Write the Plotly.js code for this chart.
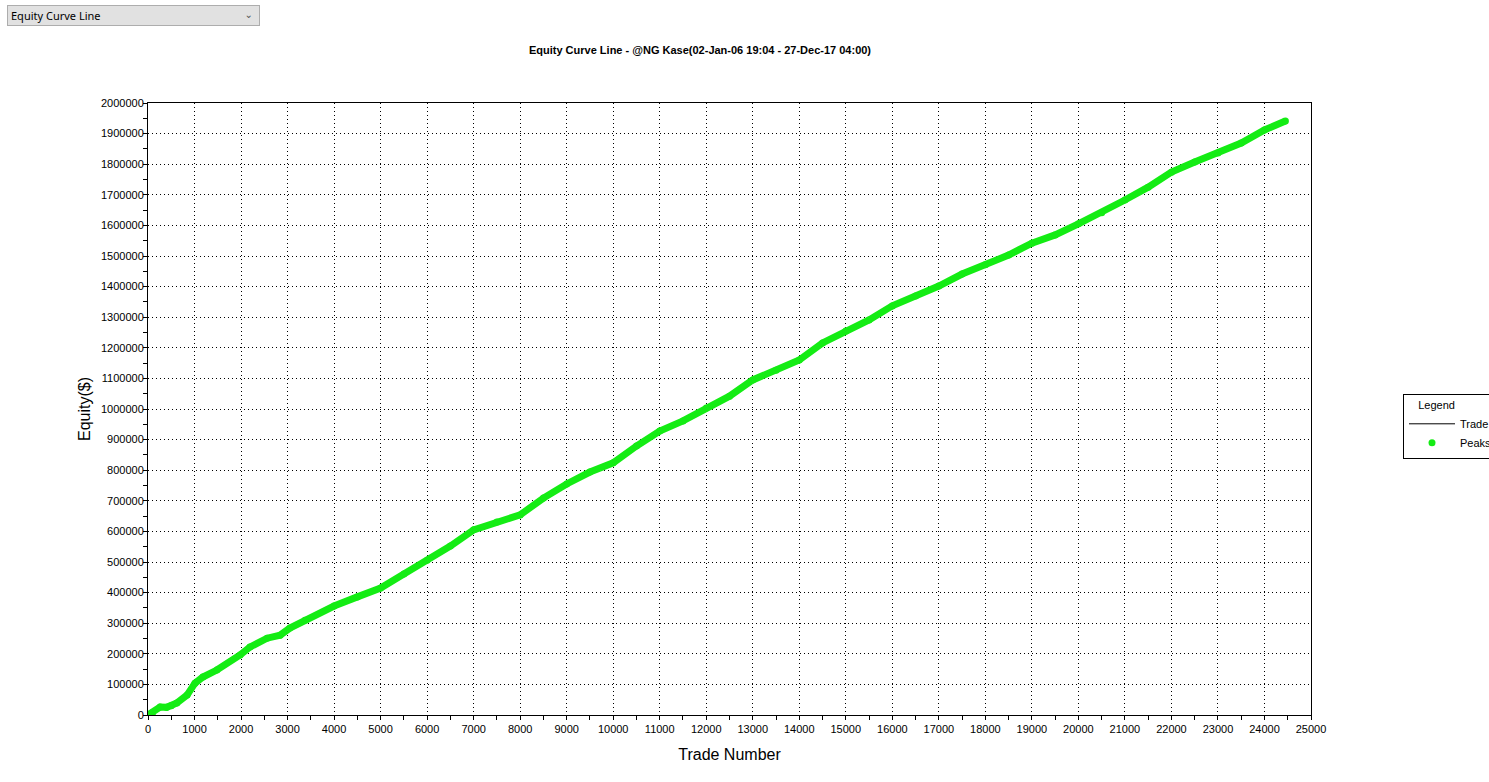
<!DOCTYPE html>
<html>
<head>
<meta charset="utf-8">
<script src="https://cdn.plot.ly/plotly-3.0.1.min.js"></script>
<style>
  html, body { margin: 0; padding: 0; background: #ffffff; overflow: hidden; width: 1489px; height: 782px; }
  #chart { position: absolute; left: 0; top: 0; width: 1600px; height: 782px; }
  #dropdown {
    position: absolute; left: 7px; top: 5px; width: 251px; height: 19px;
    background: #e1e1e1; border: 1px solid #adadad; z-index: 10;
    font-family: "Noto Sans", "DejaVu Sans", sans-serif; font-size: 11px; color: #000;
    line-height: 19px; box-sizing: content-box;
  }
  #dropdown span.t { position: absolute; left: 3px; top: 0; }
  #dropdown span.c { position: absolute; right: 6px; top: -1px; font-size: 10px; color: #555; }
</style>
</head>
<body>
<div id="dropdown"><span class="t">Equity Curve Line</span><span class="c">&#8964;</span></div>
<div id="chart"></div>
<script>
// Trade number and equity
var tradeNumbers = [0, 100, 260, 400, 500, 620, 840, 1010, 1180, 1480, 1980, 2190, 2560, 2840, 3050, 3375,
  4000, 4500, 5000, 5500, 6000, 6500, 7000, 7500, 8000, 8500, 9000, 9500, 10000, 10500, 11000, 11500,
  12000, 12500, 13000, 13500, 14000, 14500, 15000, 15500, 16000, 16500, 17000, 17500, 18000, 18500,
  19000, 19500, 20000, 20500, 21000, 21500, 22000, 22500, 23000, 23500, 24000, 24450];
var equityValues = [0, 8000, 26000, 25000, 30000, 39000, 65000, 104000, 124000, 147000, 196000, 222000, 251000, 261000, 284000, 310000,
  356000, 386000, 415000, 461000, 506000, 552000, 605000, 631000, 654000, 709000, 755000, 794000, 824000, 879000, 928000, 961000,
  1003000, 1042000, 1095000, 1127000, 1160000, 1216000, 1255000, 1291000, 1337000, 1369000, 1402000, 1441000, 1471000, 1503000,
  1542000, 1569000, 1605000, 1641000, 1683000, 1725000, 1774000, 1807000, 1837000, 1869000, 1912000, 1941000];

var chartTitle = "Equity Curve Line - @NG Kase(02-Jan-06 19:04 - 27-Dec-17 04:00)";
var xTitle = "Trade Number";
var yTitle = "Equity($)";
var legendTitle = "Legend";
var seriesNames = ["Trade", "Peaks"];

var green = "#14ec14";
var fontFam = "Liberation Sans, Arial, sans-serif";
var W = 1600;

var traces = [
  { x: tradeNumbers, y: equityValues, type: "scatter", mode: "lines", name: seriesNames[0],
    line: { color: "#000000", width: 1 }, hoverinfo: "skip" },
  { x: tradeNumbers, y: equityValues, type: "scatter", mode: "lines", showlegend: false,
    line: { color: green, width: 7 }, hoverinfo: "skip" },
  { x: tradeNumbers, y: equityValues, type: "scatter", mode: "markers", name: seriesNames[1],
    marker: { color: green, size: 7 } }
];

var layout = {
  width: W, height: 782,
  paper_bgcolor: "#ffffff", plot_bgcolor: "#ffffff",
  font: { family: fontFam, size: 11, color: "#000000" },
  margin: { l: 148, r: W - 1311, t: 103, b: 67, autoexpand: false },
  showlegend: true,
  title: { text: "<b>" + chartTitle + "</b>", x: 700 / W, xref: "container", xanchor: "center",
           y: 1 - 50 / 782, yref: "container", yanchor: "middle",
           font: { family: fontFam, size: 11, color: "#000000" } },
  xaxis: {
    range: [0, 25000], dtick: 1000, tick0: 0, zeroline: false, tickformat: "d",
    showline: true, linecolor: "#000000", linewidth: 1, mirror: true,
    ticks: "outside", ticklen: 4, tickcolor: "#000000",
    minor: { dtick: 500, ticks: "outside", ticklen: 4, tickcolor: "#000000", showgrid: false },
    showgrid: true, gridcolor: "#000000", gridwidth: 1, griddash: "1px,3px",
    tickfont: { family: fontFam, size: 11, color: "#000000" },
    title: { text: xTitle, font: { family: fontFam, size: 16, color: "#000000" }, standoff: 14 },
    automargin: false
  },
  yaxis: {
    range: [0, 2000000], dtick: 100000, tick0: 0, zeroline: false, tickformat: "d",
    showline: true, linecolor: "#000000", linewidth: 1, mirror: true,
    ticks: "outside", ticklen: 4, tickcolor: "#000000", ticklabelstandoff: -3,
    minor: { dtick: 50000, ticks: "outside", ticklen: 4, tickcolor: "#000000", showgrid: false },
    showgrid: true, gridcolor: "#000000", gridwidth: 1, griddash: "1px,3px",
    tickfont: { family: fontFam, size: 11, color: "#000000" },
    title: { text: yTitle, font: { family: fontFam, size: 16, color: "#000000" }, standoff: 6 },
    automargin: false
  },
  legend: {
    x: (1403 - 148) / 1163, xanchor: "left", y: (715 - 394) / 612, yanchor: "top",
    bgcolor: "#ffffff", bordercolor: "#000000", borderwidth: 1,
    font: { family: fontFam, size: 11, color: "#000000" },
    title: { text: "\u00a0\u00a0\u00a0\u00a0" + legendTitle, side: "top", font: { family: fontFam, size: 11, color: "#000000" } },
    itemwidth: 46, tracegroupgap: 0
  }
};

Plotly.newPlot("chart", traces, layout, { displayModeBar: false, staticPlot: true });
</script>
</body>
</html>
